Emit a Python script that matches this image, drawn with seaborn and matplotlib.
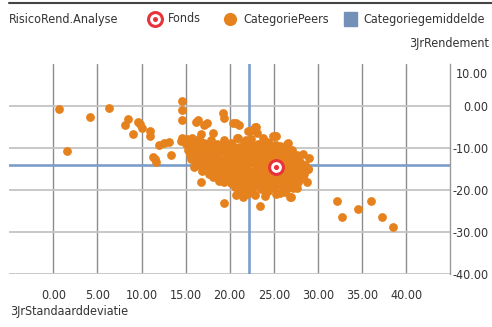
import matplotlib
matplotlib.use("Agg")
import matplotlib.pyplot as plt
import matplotlib.transforms as mtransforms
from matplotlib.lines import Line2D
from matplotlib.patches import Rectangle
import seaborn as sns
import pandas as pd

# Peer funds: 3-year standard deviation (x) and 3-year return (y)
peer_std = [
    0.7, 1.6, 4.2, 6.3, 8.5, 8.1, 9.0, 9.6, 9.8, 10.1, 11.0, 11.0, 11.3, 11.5, 11.6,
    12.0, 12.5, 13.1, 13.4, 14.6, 14.6, 14.6, 14.5, 14.6, 15.3, 15.7,
    16.2, 16.4, 17.1, 17.4, 16.8, 18.1, 19.2, 19.3, 20.4, 20.7, 21.0, 20.8, 22.1,
    21.9, 23.0, 22.3, 23.1, 22.9, 22.7, 24.9, 23.8, 24.2, 25.1,
    15.2, 15.8, 16.5, 17.1, 17.9, 18.6, 19.4, 20.2, 20.9, 21.6, 22.4, 23.2, 23.9, 24.5, 25.3, 26.6, 26.5,
    15.4, 16.1, 16.9, 17.5, 18.2, 18.9, 19.6, 20.3, 21.0, 21.8, 22.5, 23.1, 23.8, 24.6, 25.2, 25.9, 26.4, 27.1,
    15.5, 16.0, 16.7, 17.3, 18.0, 18.7, 19.3, 20.0, 20.7, 21.4, 22.1, 22.8, 23.5, 24.2, 24.9, 25.6, 26.2,
    26.9, 27.6, 28.3, 29.0,
    15.9, 16.4, 17.0, 17.7, 18.4, 19.1, 19.8, 20.5, 21.2, 21.9, 22.6, 23.3, 24.0, 24.7, 25.9, 26.5, 27.2,
    27.8, 28.5, 28.9, 28.0,
    16.9, 17.6, 18.3, 19.0, 19.7, 20.4, 21.1, 21.8, 22.5, 23.2, 23.9, 24.6, 25.3, 26.0, 26.7, 27.4, 28.0,
    28.9, 28.3,
    18.1, 18.8, 19.5, 20.2, 20.9, 21.6, 22.3, 23.0, 23.7, 24.4, 25.1, 25.8, 26.5, 27.3, 28.8, 16.7,
    20.6, 21.2, 21.9, 22.6, 23.6, 24.3, 25.0, 25.7, 26.4, 27.2, 21.5, 22.9, 26.8, 26.9,
    19.9, 20.6, 21.3, 22.0, 22.7, 23.4, 24.1, 24.8, 25.5, 20.1, 20.8, 21.5, 22.2, 22.9, 23.6, 24.3,
    25.0, 25.6, 26.2, 19.2, 18.5, 17.9, 19.6, 20.3, 21.7, 23.0, 24.4, 25.8, 22.2, 23.6,
    15.1, 15.3, 15.6, 16.3, 16.6, 16.2, 17.2, 17.4, 16.8, 17.6, 18.4, 18.3,
    19.0, 19.8, 20.4, 21.1, 21.7, 22.3, 23.0, 23.7, 24.4, 25.0, 25.7, 26.2, 27.0, 26.0, 27.5, 27.8,
    18.9, 19.4, 20.0, 21.0, 22.0, 23.0, 24.0, 24.9, 25.6, 26.9, 27.8, 22.8, 21.3, 19.9, 22.0, 23.3,
    24.7, 21.0, 26.1, 27.7, 28.4, 28.0, 26.3, 25.3, 24.0, 22.0, 20.7,
    15.8, 16.6, 17.8, 18.6, 19.2, 19.6, 20.4, 20.9, 21.5, 21.9, 22.6, 23.0, 23.8, 24.3, 24.6, 25.3,
    25.9, 26.6, 26.8, 27.3, 27.4, 26.8, 26.3, 25.6, 25.0, 24.4, 23.8, 23.1, 22.4, 21.6, 21.0, 20.2,
    19.5, 18.8, 18.2, 17.4, 16.6, 18.0, 18.7, 19.4, 20.6, 21.7, 22.9, 24.1, 25.4, 26.9, 27.6, 23.9,
    22.5, 21.4,
    19.4, 23.4, 32.2, 32.7, 34.5, 36.0, 37.3, 38.5,
]
peer_ret = [
    -0.7, -10.7, -2.8, -0.6, -3.1, -4.6, -6.6, -3.8, -4.4, -5.3, -6.1, -7.3, -12.2, -12.7, -13.3,
    -9.4, -8.8, -8.5, -11.7, 1.0, -1.1, -3.4, -8.3, -7.7, -8.5, -7.7,
    -3.8, -3.4, -4.6, -4.2, -6.7, -6.4, -1.8, -3.0, -4.0, -4.2, -4.6, -7.7, -5.9,
    -8.2, -5.0, -6.0, -6.5, -5.0, -5.5, -7.1, -7.7, -8.5, -7.3,
    -8.0, -8.6, -7.9, -8.8, -8.2, -9.0, -8.1, -8.9, -7.6, -8.7, -8.0, -9.1, -8.4, -8.9, -7.3, -8.8, -9.2,
    -9.6, -10.3, -9.4, -10.6, -9.9, -10.4, -9.5, -10.8, -9.8, -10.5, -9.3, -10.2, -9.7, -10.6, -9.4, -10.1, -10.9, -10.4,
    -11.7, -12.1, -11.2, -12.6, -11.6, -12.3, -11.1, -12.8, -11.7, -12.4, -11.3, -12.7, -11.8, -12.2, -11.5, -12.6, -11.9,
    -12.4, -11.6, -11.4, -12.5,
    -14.5, -14.0, -13.6, -14.5, -13.2, -14.3, -13.5, -14.8, -13.4, -14.6, -13.1, -14.2, -13.7, -14.9, -13.4, -14.4, -13.8,
    -14.8, -14.1, -15.0, -14.8,
    -15.6, -16.3, -15.4, -16.7, -15.8, -16.5, -15.2, -16.9, -15.7, -16.2, -15.3, -16.8, -15.9, -16.4, -15.5, -16.6, -15.9,
    -15.1, -17.2,
    -16.8, -17.9, -17.3, -18.4, -17.6, -18.8, -17.2, -18.2, -17.7, -18.6, -17.4, -18.9, -17.8, -18.3, -18.2, -18.0,
    -19.3, -20.0, -19.6, -20.6, -19.8, -20.3, -19.5, -20.8, -19.9, -19.6, -21.6, -21.2, -21.6, -21.7,
    -10.0, -11.0, -10.1, -12.0, -10.9, -13.0, -11.0, -13.3, -11.1, -13.9, -15.4, -14.0, -15.5, -14.0, -15.6, -14.5,
    -16.2, -14.9, -17.1, -12.9, -14.6, -12.9, -16.6, -17.8, -12.0, -16.0, -16.0, -13.0, -19.0, -18.0,
    -9.0, -10.5, -12.6, -9.0, -11.0, -13.0, -9.6, -11.4, -12.0, -13.2, -10.8, -12.2,
    -9.3, -11.6, -9.6, -12.1, -9.4, -11.0, -9.6, -12.3, -9.3, -10.6, -9.5, -12.8, -13.0, -15.0, -15.1, -12.8,
    -15.0, -15.4, -15.9, -16.1, -14.0, -13.5, -16.0, -17.9, -17.0, -17.0, -17.0, -17.9, -17.4, -17.0, -18.6, -19.0,
    -19.2, -19.0, -18.4, -18.0, -16.2, -13.4, -20.5, -21.0, -21.4, -20.9, -21.2,
    -10.0, -9.6, -9.4, -11.2, -10.6, -13.6, -12.2, -13.0, -11.4, -13.2, -12.1, -11.0, -10.6, -11.8, -13.0, -12.0,
    -11.6, -12.0, -10.8, -12.2, -14.4, -16.1, -15.8, -16.0, -15.2, -15.6, -14.4, -15.2, -16.4, -15.6, -14.6, -15.0,
    -14.4, -13.4, -13.8, -14.0, -13.4, -15.8, -16.4, -18.0, -16.8, -17.8, -16.9, -17.4, -18.4, -18.6, -19.4, -19.6,
    -19.4, -20.4,
    -23.0, -23.9, -22.5, -26.4, -24.5, -22.5, -26.3, -28.7,
]

# The fund itself and the category averages
fund_std = [25.25]
fund_ret = [-14.6]
cat_avg_std = 22.2
cat_avg_ret = -14.1

x_ticks = [0, 5, 10, 15, 20, 25, 30, 35, 40]
y_ticks = [10, 0, -10, -20, -30, -40]

ORANGE = "#E6821E"
RED = "#E8333A"
BLUE = "#7B9DC9"
TEXT = "#333333"
FS = 9

sns.set_theme(style="white")
plt.rcParams["font.family"] = ["DejaVu Sans"]
plt.rcParams["font.stretch"] = "condensed"

W, H = 492, 327
fig = plt.figure(figsize=(W / 100, H / 100), dpi=100)
ax = fig.add_axes([9.2 / W, 1 - 274.4 / H, (450.2 - 9.2) / W, (274.4 - 63.5) / H])

peers = pd.DataFrame({"std": peer_std, "ret": peer_ret})
fund = pd.DataFrame({"std": fund_std, "ret": fund_ret})

ax.set_xlim(-5, 45)
ax.set_ylim(-40, 10)

# grid
for v in x_ticks:
    ax.axvline(v, color="#8c8c8c", lw=1.0, zorder=1)
for v in y_ticks[1:]:
    ax.axhline(v, color="#c4c4c4", lw=1.3, zorder=1)

# category average cross
ax.axvline(cat_avg_std, color=BLUE, lw=1.9, zorder=2)
ax.axhline(cat_avg_ret, color=BLUE, lw=1.9, zorder=2)

sns.scatterplot(data=peers, x="std", y="ret", ax=ax, color=ORANGE, s=40,
                linewidth=0, zorder=3, legend=False)
sns.scatterplot(data=fund, x="std", y="ret", ax=ax, color="white", s=100,
                edgecolor=RED, linewidth=2.2, zorder=4, legend=False)
sns.scatterplot(data=fund, x="std", y="ret", ax=ax, color=RED, s=14,
                linewidth=0, zorder=5, legend=False)

for s in ["top", "left", "bottom"]:
    ax.spines[s].set_visible(False)
ax.spines["right"].set_color("#9a9a9a")
ax.spines["right"].set_linewidth(1.0)

ax.set_xticks(x_ticks)
ax.set_xticklabels([f"{v:.2f}" for v in x_ticks])
ax.yaxis.tick_right()
ax.set_yticks(y_ticks)
ax.set_yticklabels([f"{v:.2f}" for v in y_ticks])
ax.tick_params(axis="x", length=0, pad=10.5, labelsize=FS, labelcolor=TEXT)
ax.tick_params(axis="y", length=0, pad=27.5, labelsize=FS, labelcolor=TEXT)
for lab in ax.get_yticklabels():
    lab.set_horizontalalignment("right")
top_lab = ax.get_yticklabels()[0]
top_lab.set_transform(top_lab.get_transform()
                      + mtransforms.ScaledTranslation(0, -0.10, fig.dpi_scale_trans))
ax.set_xlabel("")
ax.set_ylabel("")

# header rule and legend row
fig.add_artist(Line2D([9 / W, 1], [1 - 2.7 / H] * 2, color="#444444", lw=1.5))
ly = 1 - 19 / H
fig.text(9 / W, ly, "RisicoRend.Analyse", fontsize=FS, color=TEXT, va="center", ha="left")
fig.add_artist(Line2D([155 / W], [ly], marker="o", markersize=10, markerfacecolor="white",
                      markeredgecolor=RED, markeredgewidth=2.2, linestyle="none"))
fig.add_artist(Line2D([155 / W], [ly], marker="o", markersize=3.6, markerfacecolor=RED,
                      markeredgewidth=0, linestyle="none"))
fig.text(168 / W, ly, "Fonds", fontsize=FS, color=TEXT, va="center", ha="left")
fig.add_artist(Line2D([229.5 / W], [ly], marker="o", markersize=9.5, markerfacecolor=ORANGE,
                      markeredgewidth=0, linestyle="none"))
fig.text(243 / W, ly, "CategoriePeers", fontsize=FS, color=TEXT, va="center", ha="left")
fig.add_artist(Rectangle((344 / W, 1 - 25.5 / H), 13 / W, 13 / H, color="#7391B8",
                         transform=fig.transFigure))
fig.text(363 / W, ly, "Categoriegemiddelde", fontsize=FS, color=TEXT, va="center", ha="left")

fig.text(489 / W, 1 - 43 / H, "3JrRendement", fontsize=FS, color=TEXT, va="center", ha="right")
fig.text(10 / W, 1 - 312 / H, "3JrStandaarddeviatie", fontsize=FS, color=TEXT, va="center", ha="left")

fig.savefig("out.png", dpi=100, facecolor="white")
